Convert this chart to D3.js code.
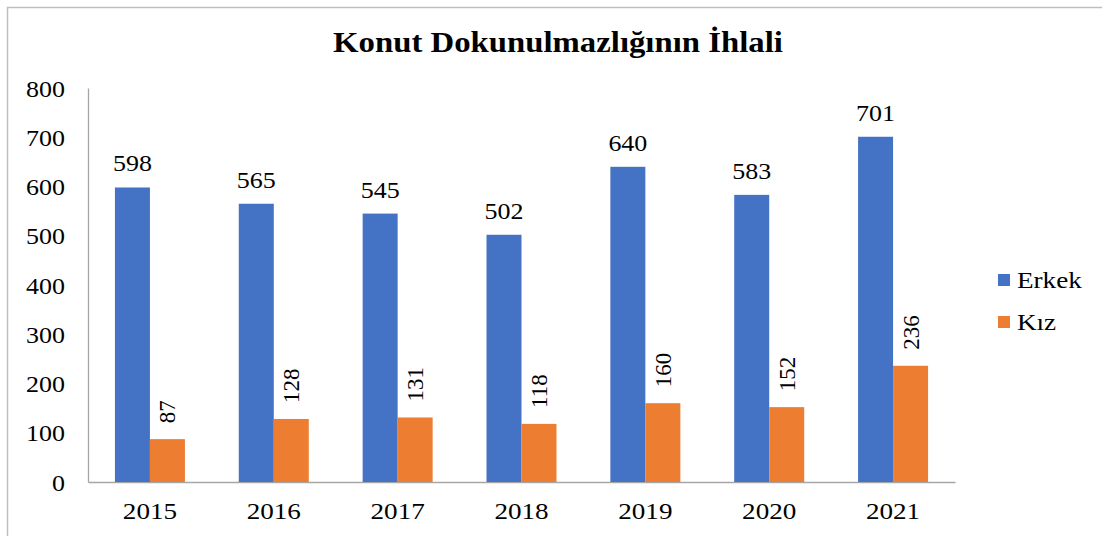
<!DOCTYPE html>
<html>
<head>
<meta charset="utf-8">
<script src="https://cdn.jsdelivr.net/npm/d3@7"></script>
<style>
  html, body { margin: 0; padding: 0; background: #fff; }
  svg { display: block; }
  svg text { font-family: "Liberation Serif", "Times New Roman", serif !important; fill: #000; }
</style>
</head>
<body>
<svg id="chart" width="1102" height="536"></svg>
<script>
const title = "Konut Dokunulmazlığının İhlali";
const years = ["2015", "2016", "2017", "2018", "2019", "2020", "2021"];
const seriesNames = ["Erkek", "Kız"];
const erkek = [598, 565, 545, 502, 640, 583, 701];
const kiz = [87, 128, 131, 118, 160, 152, 236];
const yTicks = [0, 100, 200, 300, 400, 500, 600, 700, 800];
const colors = ["#4472C4", "#ED7D31"];

(function () {
const svg = d3.select("#chart");
const W = 1102, H = 536;
const pLeft = 88, pRight = 955, pTop = 88, pBottom = 482;
const SX = 1.13; // horizontal stretch of the reference's text
const FS = 23;

// outer border (top and left visible)
svg.append("path")
  .attr("d", `M7.5,${H + 2} L7.5,7.5 L${W + 2},7.5`)
  .attr("fill", "none").attr("stroke", "#bfbfbf").attr("stroke-width", 1.5);

svg.append("text")
  .attr("transform", `translate(558,52) scale(${SX},1)`)
  .attr("text-anchor", "middle")
  .attr("font-size", 29).attr("font-weight", "bold")
  .text(title);

const x = d3.scaleBand().domain(years).range([pLeft, pRight]).padding(0);
const y = d3.scaleLinear().domain([0, 800]).range([pBottom, pTop]);
const barW = 35;

// y axis
const yAxis = d3.axisLeft(y).tickValues(yTicks).tickSize(0).tickPadding(23);
const gy = svg.append("g").attr("transform", `translate(${pLeft},0)`).call(yAxis);
gy.attr("font-family", null).attr("font-size", null);
gy.select(".domain").attr("stroke", "#a6a6a6").attr("stroke-width", 1.3);
gy.selectAll(".tick text").attr("font-size", FS).attr("dy", "0.35em")
  .attr("x", 0).attr("transform", `translate(-23,0) scale(${SX},1)`)
  .attr("fill", "#000");

// x axis
const xAxis = d3.axisBottom(x).tickSize(0).tickPadding(20);
const gx = svg.append("g").attr("transform", `translate(0,${pBottom})`).call(xAxis);
gx.attr("font-family", null).attr("font-size", null);
gx.select(".domain").attr("stroke", "#a6a6a6").attr("stroke-width", 1.3);
gx.selectAll(".tick text").attr("font-size", FS + 1)
  .attr("transform", `scale(${SX},1)`)
  .attr("fill", "#000");

const groups = svg.append("g");
years.forEach((yr, i) => {
  const cx = x(yr) + x.bandwidth() / 2;
  groups.append("rect")
    .attr("x", cx - barW).attr("y", y(erkek[i]))
    .attr("width", barW).attr("height", y(0) - y(erkek[i]))
    .attr("fill", colors[0]);
  groups.append("text")
    .attr("transform", `translate(${cx - barW / 2},${y(erkek[i]) - 16}) scale(${SX},1)`)
    .attr("text-anchor", "middle").attr("font-size", FS)
    .text(erkek[i]);
  groups.append("rect")
    .attr("x", cx).attr("y", y(kiz[i]))
    .attr("width", barW).attr("height", y(0) - y(kiz[i]))
    .attr("fill", colors[1]);
  groups.append("text")
    .attr("transform", `translate(${cx + barW / 2 + 8},${y(kiz[i]) - 16}) rotate(-90)`)
    .attr("text-anchor", "start").attr("font-size", FS)
    .text(kiz[i]);
});

// legend
const legend = svg.append("g");
seriesNames.forEach((name, i) => {
  const ly = 280 + i * 42;
  legend.append("rect")
    .attr("x", 998).attr("y", ly - 6).attr("width", 12).attr("height", 12)
    .attr("fill", colors[i]);
  legend.append("text")
    .attr("transform", `translate(1017,${ly + 8}) scale(1.18,1)`)
    .attr("font-size", FS)
    .text(name);
});
})();
</script>
</body>
</html>
